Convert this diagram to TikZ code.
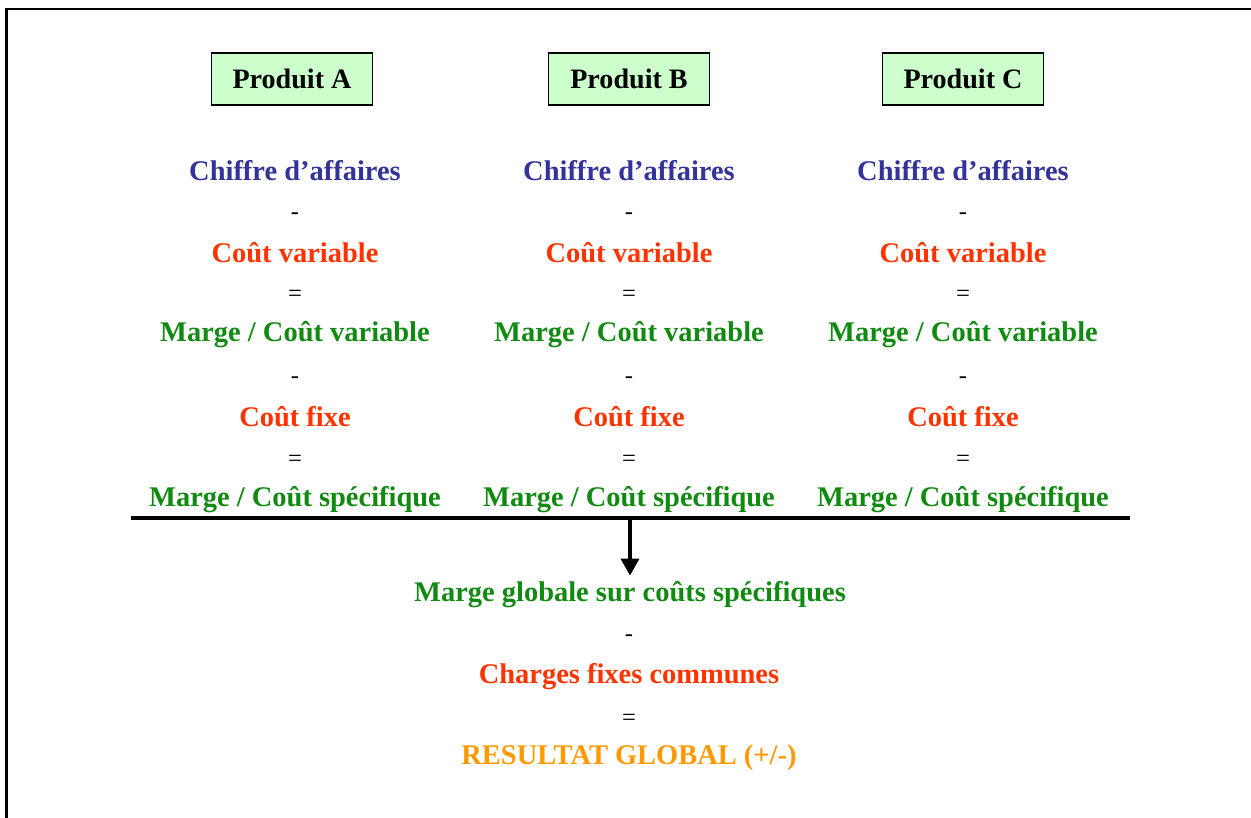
\documentclass[tikz,border=0pt]{standalone}
\usepackage{fontspec}
\setmainfont{Liberation Serif}
\usepackage{tikz}
\usetikzlibrary{arrows.meta, positioning}

\definecolor{prodfill}{HTML}{CCFFCC}
\definecolor{cablue}{HTML}{333399}
\definecolor{coutred}{HTML}{FF3300}
\definecolor{margegreen}{HTML}{118A11}
\definecolor{resorange}{HTML}{FF9900}

\begin{document}
\begin{tikzpicture}[
  x=0.02cm, y=-0.02cm,
  produit/.style={
    draw=black,
    line width=0.8pt,
    fill=prodfill,
    minimum width=3.22cm,
    minimum height=1.04cm,
    align=center,
    font=\fontsize{16}{18}\selectfont\bfseries
  },
  ca/.style={text=cablue, font=\fontsize{16.2}{18}\selectfont\bfseries},
  cout/.style={text=coutred, font=\fontsize{16.2}{18}\selectfont\bfseries},
  marge/.style={text=margegreen, font=\fontsize{16.2}{18}\selectfont\bfseries},
  resultat/.style={text=resorange, font=\fontsize{16.2}{18}\selectfont\bfseries},
  oper/.style={text=black, font=\fontsize{14}{16}\selectfont},
  frame/.style={draw=black, line width=1.3pt},
  barre/.style={draw=black, line width=2.4pt},
  arrow/.style={-{Triangle[length=3.4mm, width=3.6mm]}, draw=black, line width=2pt}
]
  \useasboundingbox (0,0) rectangle (1251,818);
  \draw[frame] (6.5,818) -- (6.5,9) -- (1251,9);

  % produit A
  \node[produit] (prodA) at (292,79) {Produit A};
  \node[ca] (caA) at (295,171) {Chiffre d’affaires};
  \node[oper] (minusA1) at (295,216) {-};
  \node[cout] (cvA) at (295,253) {Coût variable};
  \node[oper] (eqA1) at (295,296) {=};
  \node[marge] (mcvA) at (295,335) {Marge / Coût variable};
  \node[oper] (minusA2) at (295,380) {-};
  \node[cout] (cfA) at (295,417) {Coût fixe};
  \node[oper] (eqA2) at (295,461) {=};
  \node[marge] (mcsA) at (295,500) {Marge / Coût spécifique};

  % produit B
  \node[produit] (prodB) at (629,79) {Produit B};
  \node[ca] (caB) at (629,171) {Chiffre d’affaires};
  \node[oper] (minusB1) at (629,216) {-};
  \node[cout] (cvB) at (629,253) {Coût variable};
  \node[oper] (eqB1) at (629,296) {=};
  \node[marge] (mcvB) at (629,335) {Marge / Coût variable};
  \node[oper] (minusB2) at (629,380) {-};
  \node[cout] (cfB) at (629,417) {Coût fixe};
  \node[oper] (eqB2) at (629,461) {=};
  \node[marge] (mcsB) at (629,500) {Marge / Coût spécifique};

  % produit C
  \node[produit] (prodC) at (963,79) {Produit C};
  \node[ca] (caC) at (963,171) {Chiffre d’affaires};
  \node[oper] (minusC1) at (963,216) {-};
  \node[cout] (cvC) at (963,253) {Coût variable};
  \node[oper] (eqC1) at (963,296) {=};
  \node[marge] (mcvC) at (963,335) {Marge / Coût variable};
  \node[oper] (minusC2) at (963,380) {-};
  \node[cout] (cfC) at (963,417) {Coût fixe};
  \node[oper] (eqC2) at (963,461) {=};
  \node[marge] (mcsC) at (963,500) {Marge / Coût spécifique};

  % total
  \coordinate (barreL) at (131,518);
  \coordinate (barreR) at (1130,518);
  \coordinate (split) at (630,518);
  \draw[barre] (barreL) -- (barreR);

  \node[marge] (mgcs) at (630,595) {Marge globale sur coûts spécifiques};
  \node[oper] (minusG) at (629,638) {-};
  \node[cout] (cfcom) at (629,677) {Charges fixes communes};
  \node[oper] (eqG) at (629,720) {=};
  \node[resultat] (resG) at (629,758) {RESULTAT GLOBAL (+/-)};

  \draw[arrow] (split) -- (mgcs.north);
\end{tikzpicture}
\end{document}
